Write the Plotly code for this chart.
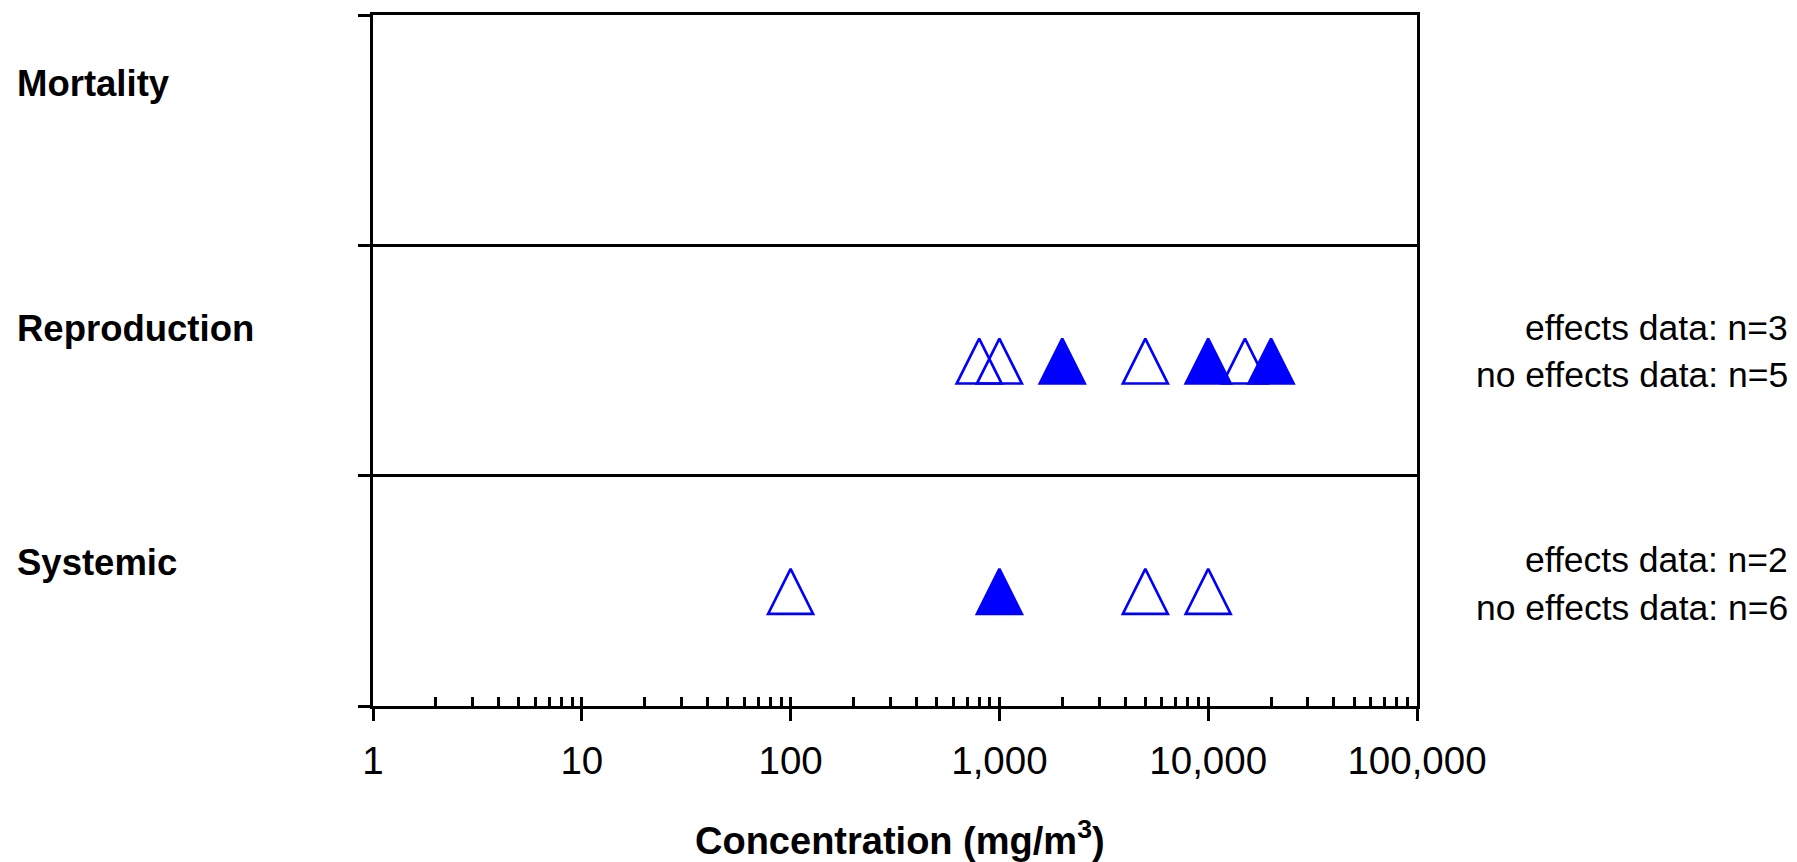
import plotly.graph_objects as go

# ---- data ----
rows = ["Systemic", "Reproduction", "Mortality"]          # bottom -> top
repro_effects = [2000, 10000, 20000]
repro_no_effects = [800, 1000, 5000, 15000]
systemic_effects = [1000]
systemic_no_effects = [100, 5000, 10000]
count_labels = {
    "Reproduction": ["effects data: n=3", "no effects data: n=5"],
    "Systemic": ["effects data: n=2", "no effects data: n=6"],
}
tick_vals = [1, 10, 100, 1000, 10000, 100000]
tick_text = ["1", "10", "100", "1,000", "10,000", "100,000"]

# ---- style ----
BLUE = "#0000FF"
FONT = "Liberation Sans, Arial, sans-serif"
MSIZE = 45
L, R, T, B = 373, 380, 13, 156
W, H = 1797, 862
plot_h = H - T - B
PX_PER_ROW = plot_h / 3
APEX_LIFT = 22 / PX_PER_ROW   # arrow-up marker: apex sits on the point


def py(px):
    """pixel row -> paper y"""
    return (H - B - px) / plot_h


def row_y(name):
    return rows.index(name) + 0.5 + APEX_LIFT


fig = go.Figure()

for name, xs in [("Reproduction", repro_no_effects), ("Systemic", systemic_no_effects)]:
    fig.add_trace(go.Scatter(
        x=xs, y=[row_y(name)] * len(xs), mode="markers",
        marker=dict(symbol="arrow-up-open", size=MSIZE, color=BLUE,
                    line=dict(width=2.6, color=BLUE)),
        showlegend=False, hoverinfo="x"))
for name, xs in [("Reproduction", repro_effects), ("Systemic", systemic_effects)]:
    fig.add_trace(go.Scatter(
        x=xs, y=[row_y(name)] * len(xs), mode="markers",
        marker=dict(symbol="arrow-up", size=MSIZE, color=BLUE,
                    line=dict(width=2.6, color=BLUE)),
        showlegend=False, hoverinfo="x"))

# dummy trace for minor-tick axis
fig.add_trace(go.Scatter(x=[], y=[], xaxis="x2", yaxis="y", showlegend=False))

minor_vals = []
for d in [1, 10, 100, 1000, 10000]:
    for k in range(1, 10):
        minor_vals.append(d * k)
minor_vals.append(100000)

fig.update_layout(
    width=W, height=H,
    margin=dict(l=L, r=R, t=T, b=B),
    paper_bgcolor="white", plot_bgcolor="white",
    font=dict(family=FONT, color="black"),
    xaxis=dict(type="log", range=[0, 5], tickvals=tick_vals, ticktext=tick_text,
               ticks="outside", ticklen=12, tickwidth=3, tickcolor="black",
               showline=True, linecolor="black", linewidth=3, mirror=True,
               showgrid=False, zeroline=False,
               tickfont=dict(size=38.5, family=FONT, color="black"),
               ticklabelstandoff=7),
    xaxis2=dict(type="log", range=[0, 5], overlaying="x", anchor="y", side="bottom",
                tickvals=minor_vals, ticks="inside", ticklen=9, tickwidth=2.6,
                tickcolor="black", showticklabels=False, showgrid=False,
                showline=False, zeroline=False),
    yaxis=dict(range=[0, 3], tickvals=[0, 1, 2, 3], ticks="outside", ticklen=12,
               tickwidth=3, tickcolor="black", showticklabels=False,
               showline=True, linecolor="black", linewidth=3, mirror=True,
               showgrid=True, gridcolor="black", gridwidth=3, zeroline=False),
)

# row labels
label_px = {"Mortality": 82, "Reproduction": 327, "Systemic": 562}
for name, pxv in label_px.items():
    fig.add_annotation(xref="paper", yref="paper", x=(15 - L) / (W - L - R), y=py(pxv),
                       xanchor="left", yanchor="middle", showarrow=False,
                       text=f"<b>{name}</b>",
                       font=dict(size=36.5, family=FONT, color="black"))

# count labels on the right
count_px = {"Reproduction": [326.5, 374], "Systemic": [560, 607.5]}
for name, lines in count_labels.items():
    for txt, pxv in zip(lines, count_px[name]):
        fig.add_annotation(xref="paper", yref="paper", x=(1790 - L) / (W - L - R), y=py(pxv),
                           xanchor="right", yanchor="middle", showarrow=False, text=txt,
                           font=dict(size=35.5, family=FONT, color="black"))

# x title
fig.add_annotation(xref="paper", yref="paper", x=(900 - L) / (W - L - R), y=py(838),
                   xanchor="center", yanchor="middle", showarrow=False,
                   text="<b>Concentration (mg/m<sup>3</sup>)</b>",
                   font=dict(size=38, family=FONT, color="black"))

fig.write_html("out.html")
